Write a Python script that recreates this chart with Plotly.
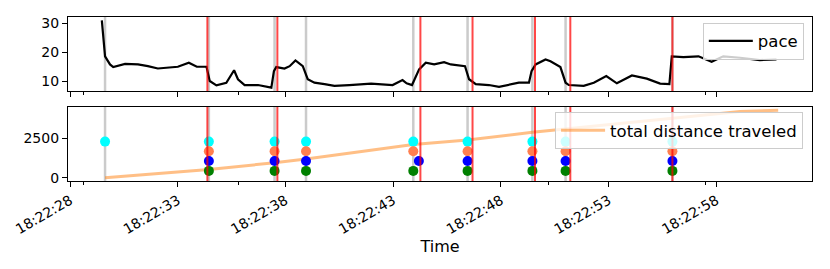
import pandas as pd
import plotly.graph_objects as go
from plotly.subplots import make_subplots

BASE = pd.Timestamp("2021-01-01 18:22:00")

# ---- data (seconds after 18:22:00) ----
pace_sec = [29.47, 29.62, 29.85, 30.00, 30.55, 31.15, 31.61, 32.07, 33.00, 33.51, 33.88, 34.33,
            34.48, 34.79, 35.25, 35.61, 35.79, 36.10, 36.72, 37.34, 37.46, 37.57, 37.95, 38.19,
            38.46, 38.80, 39.03, 39.34, 39.81, 40.27, 40.96, 41.97, 42.97, 43.43, 43.62, 43.87,
            44.20, 44.51, 44.90, 45.36, 45.67, 46.33, 46.52, 46.83, 47.44, 47.91, 48.83, 49.30,
            49.42, 49.61, 50.07, 50.30, 50.76, 51.00, 51.15, 51.84, 52.31, 52.89, 53.38, 54.08,
            54.77, 55.39, 55.82, 55.93, 56.47, 57.17, 57.78, 58.32, 59.10, 60.02, 60.79]
pace_val = [31.0, 18.6, 15.8, 14.9, 16.0, 15.8, 15.2, 14.4, 15.0, 16.4, 15.0, 15.0,
            10.1, 8.6, 9.5, 13.8, 10.7, 8.7, 8.7, 7.8, 13.5, 14.9, 14.4, 15.2,
            17.2, 15.2, 10.7, 9.5, 9.0, 8.4, 8.7, 9.2, 8.7, 10.4, 9.3, 8.7,
            14.1, 16.4, 15.8, 16.6, 15.8, 15.2, 10.7, 9.0, 8.7, 8.1, 9.5, 9.5,
            13.5, 15.8, 17.5, 16.9, 14.9, 9.5, 8.7, 8.4, 9.5, 11.8, 9.3, 12.0,
            10.9, 9.2, 9.0, 18.6, 18.3, 18.6, 16.7, 18.6, 18.1, 17.3, 17.5]

dist_sec = [29.62, 34.44, 37.49, 38.95, 43.93, 46.45, 49.46, 51.00, 55.96, 59.10, 60.87]
dist_val = [0, 520, 952, 1190, 2120, 2400, 2900, 3110, 3800, 4230, 4296]

gray_sec = [29.62, 34.44, 37.49, 38.95, 43.93, 46.45, 49.46, 51.00, 55.96]
red_sec = [34.37, 37.62, 44.26, 46.68, 49.58, 51.22, 55.96]

cyan_sec = [29.62, 34.44, 37.49, 38.95, 43.93, 46.45, 49.46, 51.00, 55.96]
coral_sec = [34.44, 37.49, 38.95, 43.93, 46.45, 49.46, 51.00, 55.96]
blue_sec = [34.44, 37.49, 38.95, 44.19, 46.45, 49.46, 51.00, 55.96]
green_sec = [34.44, 37.49, 38.95, 43.93, 46.45, 49.46, 51.00, 55.96]
level_cyan, level_coral, level_blue, level_green = 2300, 1690, 1060, 430

tick_labels = ["18:22:28", "18:22:33", "18:22:38", "18:22:43", "18:22:48", "18:22:53", "18:22:58"]
minor_sec = [28.60, 35.82, 50.22, 57.49]


def ts(secs):
    return [BASE + pd.Timedelta(seconds=s) for s in secs]


FONT = "DejaVu Sans"
fig = make_subplots(rows=2, cols=1, shared_xaxes=True, vertical_spacing=16 / 164)

# vertical event lines
for s in gray_sec:
    for yr in ["y domain", "y2 domain"]:
        fig.add_shape(type="line", xref="x", yref=yr, x0=ts([s])[0], x1=ts([s])[0], y0=0, y1=1,
                      line=dict(color="#cbcbcb", width=2.5), layer="below")
for s in red_sec:
    for yr in ["y domain", "y2 domain"]:
        fig.add_shape(type="line", xref="x", yref=yr, x0=ts([s])[0], x1=ts([s])[0], y0=0, y1=1,
                      line=dict(color="rgba(255,0,0,0.72)", width=2), layer="above")

fig.add_trace(go.Scatter(x=ts(pace_sec), y=pace_val, mode="lines", name="pace",
                         line=dict(color="black", width=2.2), legend="legend"), row=1, col=1)

fig.add_trace(go.Scatter(x=ts(dist_sec), y=dist_val, mode="lines", name="total distance traveled",
                         line=dict(color="rgba(255,127,14,0.5)", width=3), legend="legend2"),
              row=2, col=1)

for secs, lvl, col in [(cyan_sec, level_cyan, "#00ffff"), (coral_sec, level_coral, "#ff7f50"),
                       (blue_sec, level_blue, "#0000ff"), (green_sec, level_green, "#008000")]:
    fig.add_trace(go.Scatter(x=ts(secs), y=[lvl] * len(secs), mode="markers",
                             marker=dict(color=col, size=10, line=dict(width=0)),
                             showlegend=False), row=2, col=1)

# ranges with 5% padding like matplotlib
allx = pace_sec + dist_sec
xmin, xmax = min(allx), max(allx)
pad = 0.05 * (xmax - xmin)
xr = ts([xmin - pad, xmax + pad])
pmin, pmax = min(pace_val), max(pace_val)
ppad = 0.05 * (pmax - pmin)
dvals = dist_val + [level_cyan, level_green]
dmin, dmax = min(dvals), max(dvals)
dpad = 0.05 * (dmax - dmin)

tickvals = ts([int(l.split(":")[2]) for l in tick_labels])

axis_common = dict(showgrid=False, zeroline=False, showline=True, linecolor="black", linewidth=1.2,
                   mirror=True, ticks="outside", ticklen=5, tickwidth=1.1, tickcolor="black",
                   automargin=False,
                   tickfont=dict(family=FONT, size=14, color="black"))

fig.update_xaxes(**axis_common, range=xr, tickmode="array", tickvals=tickvals,
                 minor=dict(tickmode="array", tickvals=ts(minor_sec), ticks="outside", ticklen=3,
                            tickwidth=1, tickcolor="black"))
fig.update_xaxes(showticklabels=False, row=1, col=1)
fig.update_xaxes(ticktext=tick_labels, tickangle=-30, row=2, col=1,
                 title=dict(text="Time", font=dict(family=FONT, size=16, color="black"), standoff=4))
fig.update_yaxes(**axis_common)
fig.update_yaxes(range=[pmin - ppad, pmax + ppad], tickvals=[10, 20, 30], row=1, col=1)
fig.update_yaxes(range=[dmin - dpad, dmax + dpad], tickvals=[0, 2500], row=2, col=1)

legend_style = dict(bgcolor="rgba(255,255,255,0.8)", bordercolor="#cccccc", borderwidth=1,
                    font=dict(family=FONT, size=16.5, color="black"), xanchor="right", yanchor="top",
                    itemwidth=44)
fig.update_layout(
    width=830, height=269,
    margin=dict(l=68, r=18, t=17, b=88, autoexpand=False),
    paper_bgcolor="white", plot_bgcolor="white",
    font=dict(family=FONT, color="black"),
    legend=dict(**legend_style, x=0.989, y=0.966),
    legend2=dict(**legend_style, x=0.988, y=0.421),
)

fig.write_html("out.html", config={"displayModeBar": False},
               post_script="document.body.style.margin='0';")
